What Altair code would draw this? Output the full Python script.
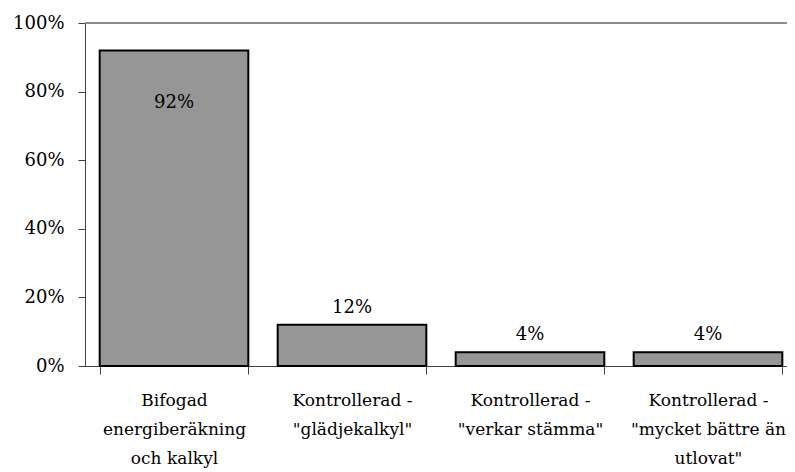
import altair as alt
import pandas as pd

categories = [
    "Bifogad\nenergiberäkning\noch kalkyl",
    "Kontrollerad -\n\"glädjekalkyl\"",
    "Kontrollerad -\n\"verkar stämma\"",
    "Kontrollerad -\n\"mycket bättre än\nutlovat\"",
]
values = [0.92, 0.12, 0.04, 0.04]
labels = ["92%", "12%", "4%", "4%"]
y_ticks = [0, 0.2, 0.4, 0.6, 0.8, 1.0]

df = pd.DataFrame({"cat": categories, "value": values, "label": labels})

FONT = "DejaVu Serif"
FS = 18

xscale = alt.Scale(range=[0, 712], paddingInner=0.165, paddingOuter=0.0825)
yscale = alt.Scale(domain=[0, 1])

x_enc = alt.X(
    "cat:N",
    sort=None,
    scale=xscale,
    title=None,
    axis=alt.Axis(
        labelAngle=0,
        labelExpr="split(datum.label, '\\n')",
        labelFont=FONT,
        labelFontSize=17,
        labelColor="black",
        labelLineHeight=29,
        labelPadding=18,
        tickBand="extent",
        tickSize=8,
        tickColor="#404040",
        domainColor="#404040",
        labelLimit=300,
    ),
)

base = alt.Chart(df)

bars = base.mark_bar(color="#969696", stroke="black", strokeWidth=2).encode(
    x=x_enc,
    y=alt.Y(
        "value:Q",
        scale=yscale,
        title=None,
        axis=alt.Axis(
            values=y_ticks,
            format=".0%",
            grid=False,
            labelFont=FONT,
            labelFontSize=FS,
            labelColor="black",
            tickSize=7,
            labelPadding=14,
            tickColor="#404040",
            domainColor="#404040",
        ),
    ),
)

text_in = base.transform_filter("datum.value > 0.5").mark_text(
    font=FONT, fontSize=FS, baseline="alphabetic", dy=58, color="black"
).encode(x=alt.X("cat:N", sort=None, scale=xscale), y=alt.Y("value:Q", scale=yscale), text="label:N")

text_out = base.transform_filter("datum.value <= 0.5").mark_text(
    font=FONT, fontSize=FS, baseline="alphabetic", dy=-12, color="black"
).encode(x=alt.X("cat:N", sort=None, scale=xscale), y=alt.Y("value:Q", scale=yscale), text="label:N")

top_border = alt.Chart(pd.DataFrame({"v": [1.0]})).mark_rule(color="#8c8c8c", strokeWidth=2).encode(
    y=alt.Y("v:Q", scale=yscale),
    x=alt.value(0),
    x2=alt.value(712),
)

chart = alt.layer(top_border, bars, text_in, text_out).properties(
    width=702,
    height=343,
    autosize="none",
    padding={"left": 77, "top": 15, "right": 0, "bottom": 106},
).configure_view(stroke=None).configure(background="white")

chart.save("out.html", embed_options={"renderer": "svg", "actions": False})
